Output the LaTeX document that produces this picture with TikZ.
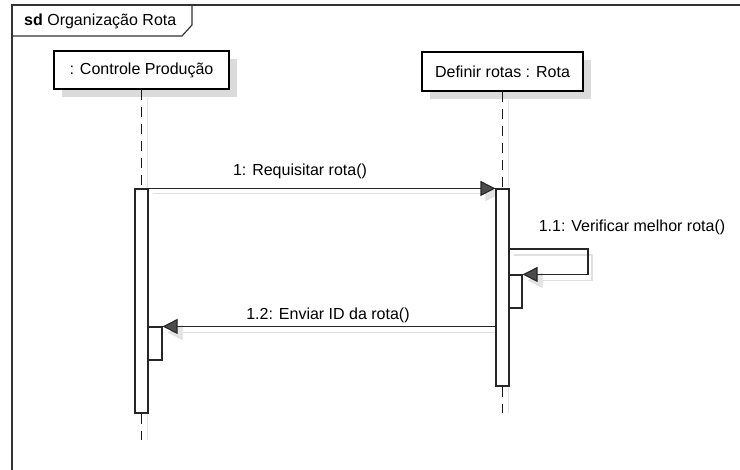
\documentclass[tikz,border=0pt]{standalone}
\usepackage{fontspec}
\setmainfont{Liberation Sans}
\usetikzlibrary{arrows.meta,shadows}

\pgfdeclarelayer{fond}
\pgfsetlayers{fond,main}

\tikzset{
  objet/.style={draw=black, line width=1.7pt, fill=white, minimum height=38pt, inner sep=0pt,
    font=\fontsize{16}{19}\selectfont,
    drop shadow={shadow xshift=8pt, shadow yshift=-8pt, fill=black!14, opacity=1}},
  activ/.style={draw=black!85, line width=1.1pt, fill=white, minimum width=13pt, inner sep=0pt},
  vie/.style={draw=black!90, line width=1pt, dash pattern=on 10pt off 7pt},
  viegris/.style={draw=black!10, line width=1pt},
  msg/.style={draw=black!85, line width=1.1pt, -{Triangle[length=15pt,width=15pt,fill=black!70]}},
  msgombre/.style={draw=black!12, line width=1.1pt, -{Triangle[length=15pt,width=15pt,fill=black!10]}},
  etiq/.style={font=\fontsize{16}{19}\selectfont, inner sep=0pt},
}

\begin{document}
\begin{tikzpicture}[x=1pt,y=-1pt,line join=miter]
\useasboundingbox (0,0) rectangle (740,470);
%cadre sd
\draw[black!80, line width=1.2pt] (740,5) -- (12,5) -- (12,470);
\draw[black!80, line width=1.2pt] (192,5) -- (192,25) -- (182,36) -- (12,36);
\node[etiq, anchor=west] (titre) at (24,21) {\textbf{sd} Organização Rota};
%objets
\node[objet, minimum width=175pt] (ctrl) at (141.5,70) {: Controle Produção};
\node[objet, minimum width=161pt, minimum height=39pt] (rota) at (502.5,71.5) {Definir rotas : Rota};
%activations
\node[activ, minimum height=224pt] (actA) at (141.5,301) {};
\node[activ, minimum width=14pt, minimum height=33pt] (actA2) at (155,343.5) {};
\node[activ, minimum height=197pt] (actB) at (502.5,287.5) {};
\node[activ, minimum height=33pt] (actB2) at (515.5,291.5) {};
%fins des lignes de vie
\coordinate (finA) at (141.5,440);
\coordinate (finB) at (502.5,413);
\coordinate (boucle) at (588,249);
%lignes de vie
\draw[vie] (ctrl.south) -- (actA.north);
\draw[vie] (actA.south) -- (finA);
\draw[vie] (rota.south) -- (actB.north);
\draw[vie] (actB.south) -- (finB);
%ombres
\begin{pgfonlayer}{fond}
  \draw[viegris] ([shift={(6,8)}]ctrl.south) -- ([xshift=6pt]finA);
  \draw[viegris] ([shift={(6,8)}]rota.south) -- ([xshift=6pt]finB);
  \draw[msgombre] ([shift={(4,5)}]actA.north east) -- ([shift={(5,5)}]actB.north west);
  \draw[msgombre] ([shift={(4,6)}]actB.east |- boucle) -- ([shift={(4,6)}]boucle)
    -- ([shift={(4,6)}]boucle |- actB2.north) -- ([shift={(5,6)}]actB2.north east);
  \draw[msgombre] ([shift={(5,6)}]actB.west |- actA2.north) -- ([shift={(5,6)}]actA2.north east);
\end{pgfonlayer}
%messages
\draw[msg] (actA.north east) -- (actB.north west);
\node[etiq] (m1) at (300,171) {1: Requisitar rota()};
\draw[msg] (actB.east |- boucle) -- (boucle) -- (boucle |- actB2.north) -- (actB2.north east);
\node[etiq] (m11) at (632,227) {1.1: Verificar melhor rota()};
\draw[msg] (actB.west |- actA2.north) -- (actA2.north east);
\node[etiq] (m12) at (328,315) {1.2: Enviar ID da rota()};
\end{tikzpicture}
\end{document}
